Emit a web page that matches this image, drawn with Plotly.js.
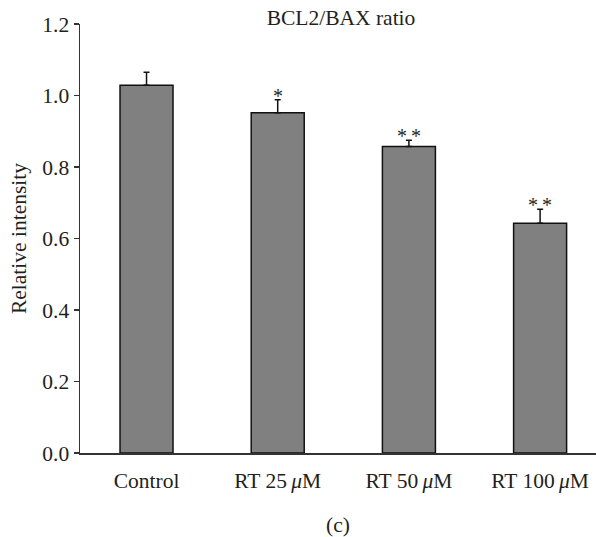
<!DOCTYPE html>
<html>
<head>
<meta charset="utf-8">
<script src="https://cdn.plot.ly/plotly-3.0.1.min.js"></script>
<style>html,body{margin:0;padding:0;background:#fff;}#chart{width:596px;height:537px;}</style>
</head>
<body>
<div id="chart"></div>
<script>
const categories = ["Control", "RT 25\u2009<i>μ</i>M", "RT 50\u2009<i>μ</i>M", "RT 100\u2009<i>μ</i>M"];
const values = [1.029, 0.952, 0.857, 0.643];
const errors = [0.036, 0.036, 0.018, 0.039];
const significance = ["", "*", "*\u2009*", "*\u2009*"];
const yTicks = [0.0, 0.2, 0.4, 0.6, 0.8, 1.0, 1.2];
const yTickText = ["0.0", "0.2", "0.4", "0.6", "0.8", "1.0", "1.2"];

const FONT = "Liberation Serif, Times New Roman, serif";
const TXT = "#231f20";
const FS = 21.5;

const trace = {
  type: "bar",
  x: categories,
  y: values,
  width: 0.404,
  marker: { color: "#808080", line: { color: "#111", width: 1.5 } },
  error_y: { type: "data", array: errors, symmetric: false, arrayminus: errors.map(() => 0), color: "#111", thickness: 1.5, width: 3 },
  hoverinfo: "none"
};

const annotations = significance.map((s, i) => ({
  x: categories[i], y: values[i] + errors[i], xref: "x", yref: "y",
  text: s, showarrow: false, yanchor: "bottom", yshift: -9,
  font: { family: FONT, size: 20, color: TXT }
})).filter(a => a.text !== "");

annotations.push({
  x: 0.5, y: (453 - 525) / 429, xref: "paper", yref: "paper",
  text: "(c)", showarrow: false, yanchor: "middle", xanchor: "center",
  font: { family: FONT, size: FS, color: TXT }
});

const layout = {
  width: 596, height: 537,
  margin: { l: 80, r: 0, t: 24, b: 84, pad: 0 },
  paper_bgcolor: "#fff", plot_bgcolor: "#fff",
  showlegend: false,
  font: { family: FONT, size: FS, color: TXT },
  title: {
    text: "BCL2/BAX ratio", xref: "container", yref: "container",
    x: 341 / 596, y: 1 - 17 / 537, xanchor: "center", yanchor: "middle",
    font: { family: FONT, size: FS, color: TXT }
  },
  xaxis: {
    type: "category",
    range: [-0.507, 3.426],
    showline: true, linecolor: "#333", linewidth: 1.5,
    ticks: "", showgrid: false, zeroline: false,
    ticklabelstandoff: 8,
    tickfont: { family: FONT, size: FS, color: TXT }
  },
  yaxis: {
    range: [0, 1.2],
    tickvals: yTicks, ticktext: yTickText,
    showline: true, linecolor: "#333", linewidth: 1.5,
    ticks: "outside", ticklen: 5, tickwidth: 1.2, tickcolor: "#333",
    showgrid: false, zeroline: false,
    tickfont: { family: FONT, size: FS, color: TXT },
    title: { text: "Relative intensity", standoff: 10, font: { family: FONT, size: FS, color: TXT } }
  },
  annotations: annotations
};

Plotly.newPlot("chart", [trace], layout, { staticPlot: true, displayModeBar: false });
</script>
</body>
</html>
